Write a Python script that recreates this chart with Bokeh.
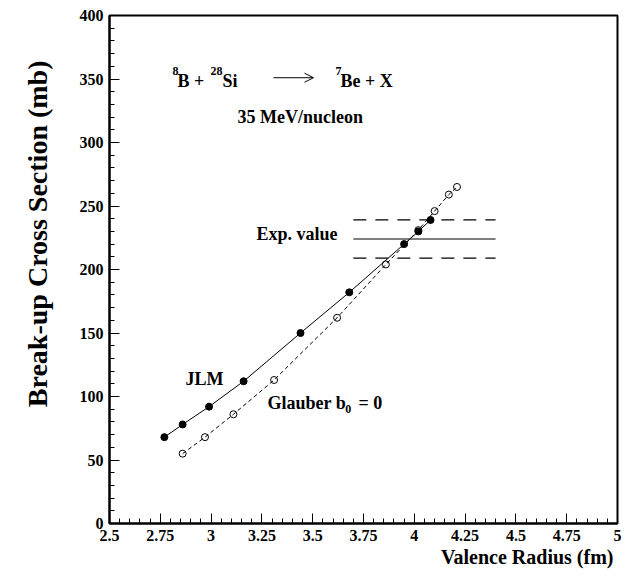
from bokeh.plotting import figure
from bokeh.models import (Range1d, SingleIntervalTicker, Label, Arrow, OpenHead,
                          Title, CustomJSTickFormatter)
from bokeh.embed import file_html
from bokeh.resources import INLINE

# ---- data ----
jlm_r = [2.77, 2.86, 2.99, 3.16, 3.44, 3.68, 3.95, 4.02, 4.08]
jlm_s = [68, 78, 92, 112, 150, 182, 220, 230, 239]
glauber_r = [2.86, 2.97, 3.11, 3.31, 3.62, 3.86, 4.02, 4.10, 4.17, 4.21]
glauber_s = [55, 68, 86, 113, 162, 204, 231, 246, 259, 265]
exp_value = 224
exp_error = 15
exp_r = [3.70, 4.40]

FONT = "Liberation Serif"

p = figure(width=630, height=584, x_range=Range1d(2.5, 5), y_range=Range1d(0, 400),
           output_backend="svg", toolbar_location=None,
           min_border_left=109, min_border_right=13, min_border_top=15, min_border_bottom=61)
p.background_fill_color = "white"
p.border_fill_color = "white"
p.grid.visible = False
p.outline_line_color = "black"
p.outline_line_width = 2

p.xaxis.ticker = SingleIntervalTicker(interval=0.25, num_minor_ticks=5)
p.yaxis.ticker = SingleIntervalTicker(interval=50, num_minor_ticks=5)
p.xaxis.formatter = CustomJSTickFormatter(code="return String(Math.round(tick*100)/100);")
for ax in (p.xaxis[0], p.yaxis[0]):
    ax.axis_line_width = 2
    ax.axis_line_color = "black"
    ax.major_tick_in = 10
    ax.major_tick_out = 0
    ax.minor_tick_in = 5
    ax.minor_tick_out = 0
    ax.major_tick_line_color = "black"
    ax.minor_tick_line_color = "black"
    ax.major_label_text_font = FONT
    ax.major_label_text_font_style = "bold"
    ax.major_label_text_font_size = "16px"
    ax.major_label_text_color = "black"
    ax.major_label_standoff = 6

p.add_layout(Title(text="Valence Radius (fm)", align="right", text_font=FONT,
                   text_font_style="bold", text_font_size="20px", text_color="black",
                   standoff=0, offset=4), "below")
p.add_layout(Title(text="Break-up Cross Section (mb)", align="right", vertical_align="top",
                   text_font=FONT, text_font_style="bold", text_font_size="28px",
                   text_color="black", standoff=43, offset=45), "left")

# ---- curves ----
p.line(jlm_r, jlm_s, line_color="black", line_width=1)
p.scatter(jlm_r, jlm_s, marker="circle", size=7, fill_color="black", line_color="black")
p.line(glauber_r, glauber_s, line_color="black", line_width=1, line_dash="4 3")
p.scatter(glauber_r, glauber_s, marker="circle", size=7, fill_alpha=0,
          line_color="black", line_width=1)

# ---- experimental value ----
p.line(exp_r, [exp_value, exp_value], line_color="black", line_width=1.2)
p.line(exp_r, [exp_value + exp_error] * 2, line_color="black", line_width=1.2, line_dash="13 9")
p.line(exp_r, [exp_value - exp_error] * 2, line_color="black", line_width=1.2, line_dash="13 9")


def lab(x, y, text, size="18px", align="left", baseline="alphabetic"):
    p.add_layout(Label(x=x, y=y, text=text, text_font=FONT, text_font_style="bold",
                       text_font_size=size, text_color="black", text_align=align,
                       text_baseline=baseline))


# reaction
lab(2.81, 356, "8", "12px")
lab(2.835, 348.8, "B + ")
lab(2.997, 356, "28", "12px")
lab(3.056, 348.8, "Si")
p.add_layout(Arrow(end=OpenHead(size=9, line_width=1, line_color="black"),
                   x_start=3.307, y_start=351, x_end=3.504, y_end=351,
                   line_width=1, line_color="black"))
lab(3.612, 356, "7", "12px")
lab(3.637, 348.8, "Be + X")
lab(3.13, 319.7, "35 MeV/nucleon")

lab(3.622, 228, "Exp. value", align="right", baseline="middle")
lab(2.874, 114, "JLM", baseline="middle")
lab(3.278, 94.5, "Glauber b", baseline="middle")
lab(3.66, 90, "0", "12px", baseline="middle")
lab(3.725, 94.5, "= 0", baseline="middle")

open("out.html", "w").write(file_html(p, INLINE))
